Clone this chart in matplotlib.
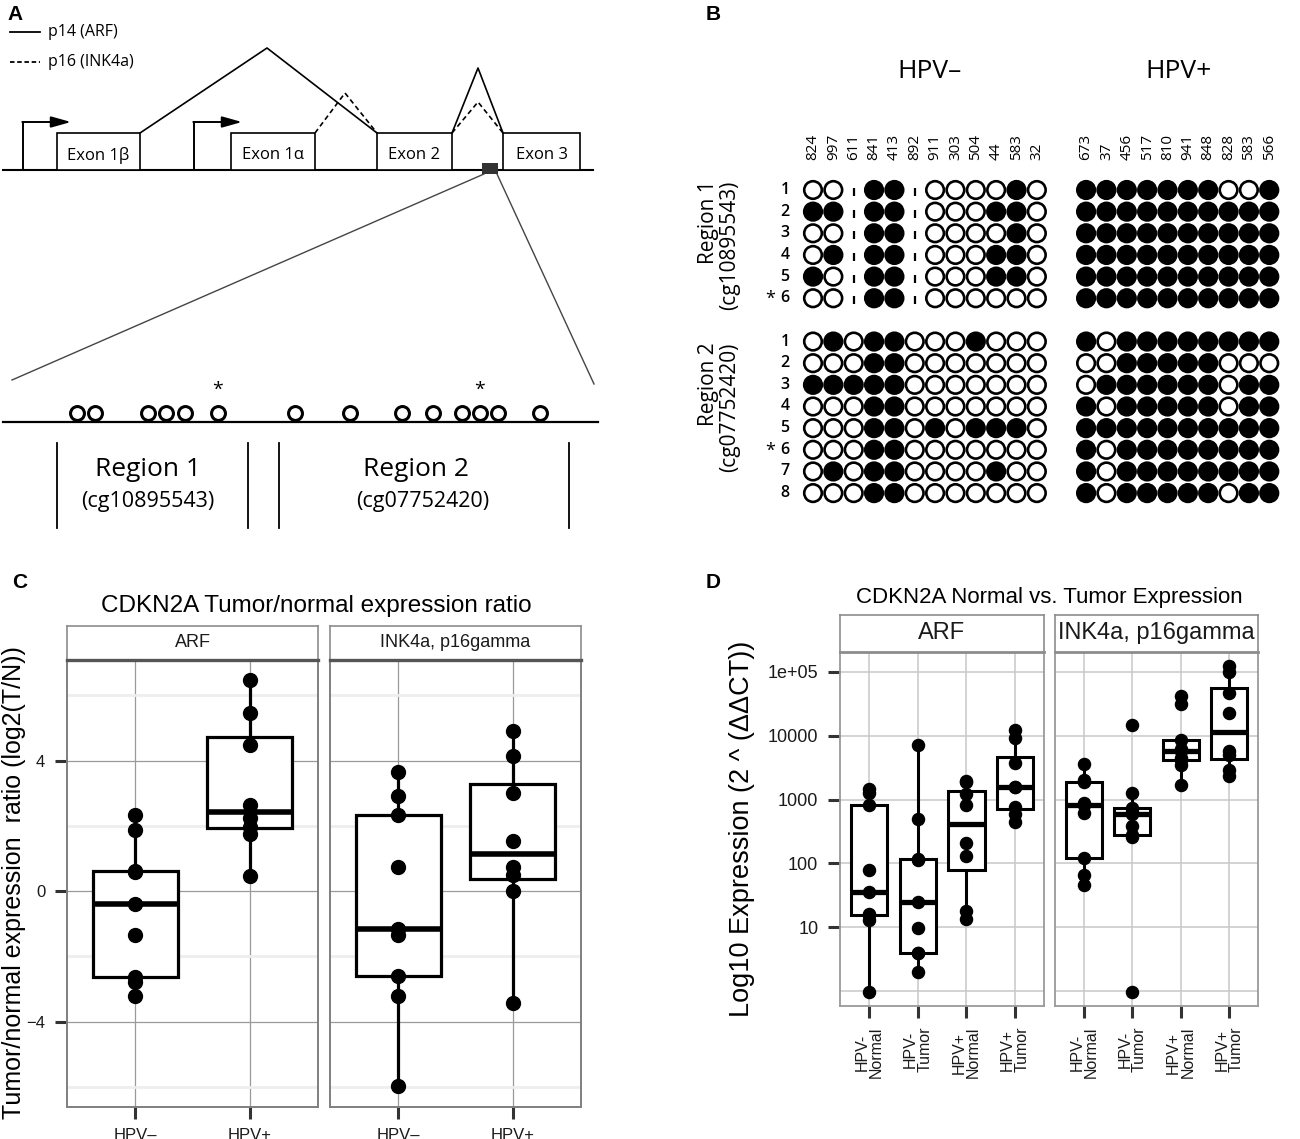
import numpy as np
import matplotlib
matplotlib.use("Agg")
import matplotlib.pyplot as plt
from matplotlib.patches import Rectangle

# ======================= DATA =======================
# --- Panel A (schematic of the CDKN2A locus) ---
exon_labels = ["Exon 1β", "Exon 1α", "Exon 2", "Exon 3"]
exon_spans = [(57, 140), (231, 315), (377, 452), (503, 580)]
tss_sites = [23, 194]
cpg_sites = [77, 95, 148, 166, 185, 218, 295, 350, 402, 433, 462, 480, 498, 540]
marked_sites = [218, 480]
region_names = ["Region 1", "Region 2"]
region_probes = ["(cg10895543)", "(cg07752420)"]
legend_labels = ["p14 (ARF)", "p16 (INK4a)"]

# --- Panel B (bisulfite sequencing; 1 = methylated, 0 = unmethylated, -1 = n/a) ---
hpv_neg_ids = ["824", "997", "611", "841", "413", "892", "911", "303", "504", "44", "583", "32"]
hpv_pos_ids = ["673", "37", "456", "517", "810", "941", "848", "828", "583", "566"]
region1_neg = [
    [0, 0, -1, 1, 1, -1, 0, 0, 0, 0, 1, 0],
    [1, 1, -1, 1, 1, -1, 0, 0, 0, 1, 1, 0],
    [0, 0, -1, 1, 1, -1, 0, 0, 0, 0, 1, 0],
    [0, 1, -1, 1, 1, -1, 0, 0, 0, 1, 1, 0],
    [1, 0, -1, 1, 1, -1, 0, 0, 0, 1, 1, 0],
    [0, 0, -1, 1, 1, -1, 0, 0, 0, 0, 0, 0],
]
region1_pos = [
    [1, 1, 1, 1, 1, 1, 1, 0, 0, 1],
    [1, 1, 1, 1, 1, 1, 1, 1, 1, 1],
    [1, 1, 1, 1, 1, 1, 1, 1, 1, 1],
    [1, 1, 1, 1, 1, 1, 1, 1, 1, 1],
    [1, 1, 1, 1, 1, 1, 1, 1, 1, 1],
    [1, 1, 1, 1, 1, 1, 1, 1, 1, 1],
]
region2_neg = [
    [0, 1, 0, 1, 1, 0, 0, 0, 1, 0, 0, 0],
    [0, 0, 0, 1, 1, 0, 0, 0, 0, 0, 0, 0],
    [1, 1, 1, 1, 1, 0, 0, 0, 0, 0, 0, 0],
    [0, 0, 0, 1, 1, 0, 0, 0, 0, 0, 0, 0],
    [0, 0, 0, 1, 1, 0, 1, 0, 1, 1, 1, 0],
    [0, 0, 0, 1, 1, 0, 0, 0, 0, 0, 0, 0],
    [0, 1, 0, 1, 1, 0, 0, 0, 0, 1, 0, 0],
    [0, 0, 0, 1, 1, 0, 0, 0, 0, 0, 0, 0],
]
region2_pos = [
    [1, 0, 1, 1, 1, 1, 1, 1, 1, 1],
    [0, 0, 1, 1, 1, 1, 1, 0, 0, 0],
    [0, 1, 1, 1, 1, 1, 1, 0, 1, 1],
    [1, 0, 1, 1, 1, 1, 1, 0, 1, 1],
    [1, 1, 1, 1, 1, 1, 1, 1, 1, 1],
    [1, 0, 1, 1, 1, 1, 1, 1, 1, 1],
    [1, 0, 1, 1, 1, 1, 1, 1, 1, 1],
    [1, 0, 1, 1, 1, 1, 1, 0, 1, 1],
]
region1_marked_row = 6
region2_marked_row = 6

# --- Panel C (log2 tumor/normal ratio) ---
c_groups = ["HPV–", "HPV+"]
c_facets = ["ARF", "INK4a, p16gamma"]
c_arf_neg = [-3.22, -2.79, -2.63, -1.34, -0.39, 0.60, 0.62, 1.87, 2.32]
c_arf_pos = [0.47, 1.75, 1.98, 2.25, 2.63, 4.49, 5.47, 6.46]
c_ink_neg = [-5.98, -3.22, -2.59, -1.34, -1.17, 0.73, 2.32, 2.91, 3.65]
c_ink_pos = [-3.43, 0.02, 0.50, 0.73, 1.53, 3.02, 4.13, 4.92]
c_yticks = [-4, 0, 4]

# --- Panel D (2^ddCT expression, plotted on log10 scale) ---
d_groups = ["HPV-\nNormal", "HPV-\nTumor", "HPV+\nNormal", "HPV+\nTumor"]
d_facets = ["ARF", "INK4a, p16gamma"]
d_arf_neg_normal = [0.97, 13, 15.5, 16, 35.5, 78, 809, 1285, 1466]
d_arf_neg_tumor = [2.0, 4.0, 4.0, 9.8, 25, 112, 115, 490, 7150]
d_arf_pos_normal = [13.5, 17.8, 129, 205, 810, 1210, 1900, 1950]
d_arf_pos_tumor = [450, 600, 760, 1570, 1570, 3690, 9300, 12100]
d_ink_neg_normal = [46, 66, 120, 615, 810, 870, 1860, 1990, 3600]
d_ink_neg_tumor = [0.97, 263, 282, 390, 600, 630, 740, 1285, 14750]
d_ink_pos_normal = [1670, 3470, 4220, 4500, 5860, 6270, 8710, 31300, 42400]
d_ink_pos_tumor = [2330, 2910, 4930, 5700, 22500, 46600, 100000, 122000]
d_ytick_values = [10, 100, 1000, 10000, 100000]
d_ytick_labels = ["10", "100", "1000", "10000", "1e+05"]

# ======================= FIGURE =======================
W, H = 1300, 1139
plt.rcParams["font.family"] = ["Liberation Sans", "DejaVu Sans"]
OS = ["Open Sans", "DejaVu Sans"]
fig = plt.figure(figsize=(W / 100, H / 100), dpi=100)


def px_axes(x0, y0, x1, y1, **kw):
    return fig.add_axes([x0 / W, 1 - y1 / H, (x1 - x0) / W, (y1 - y0) / H], **kw)


ax0 = fig.add_axes([0, 0, 1, 1], zorder=0)
ax0.set_xlim(0, W)
ax0.set_ylim(H, 0)
ax0.axis("off")

# panel letters
for lab, (x, y) in zip("ABCD", [(15, 15), (713, 15), (20, 583), (713, 582)]):
    ax0.text(x, y, lab, fontsize=15, fontweight="bold", ha="center", va="center")

# ---------------- Panel A ----------------
base_y, exon_top = 169.5, 133
ax0.plot([10, 40], [32, 32], color="k", lw=1.3)
ax0.plot([10, 40], [62, 62], color="k", lw=1.3, ls=(0, (2.5, 1.5)))
ax0.text(48, 32, legend_labels[0], fontsize=11.5, family=OS, va="center")
ax0.text(48, 62, legend_labels[1], fontsize=11.5, family=OS, va="center")

ax0.plot([3, 593], [base_y, base_y], color="k", lw=1.5, zorder=2)
for (x0, x1), lab in zip(exon_spans, exon_labels):
    ax0.add_patch(Rectangle((x0, exon_top), x1 - x0, base_y - exon_top, fc="white", ec="k", lw=1.2, zorder=3))
    ax0.text((x0 + x1) / 2, 155, lab, ha="center", va="center", fontsize=12, family=OS, zorder=4)
for x in tss_sites:
    ax0.plot([x, x], [base_y, 122], color="k", lw=1.4)
    ax0.annotate("", xy=(x + 48, 122), xytext=(x - 0.7, 122),
                 arrowprops=dict(arrowstyle="-|>,head_length=1.0,head_width=0.28", color="k", lw=1.4,
                                 shrinkA=0, shrinkB=0, mutation_scale=12))
# splicing
e1b, e1a, e2, e3 = exon_spans
ax0.plot([e1b[1], 267, e2[0]], [exon_top, 48, exon_top], color="k", lw=1.2)
ax0.plot([e1a[1], 345, e2[0]], [exon_top, 93, exon_top], color="k", lw=1.2, ls=(0, (3, 2)))
ax0.plot([e2[1], 478, e3[0]], [exon_top, 68, exon_top], color="k", lw=1.2)
ax0.plot([e2[1], 478, e3[0]], [exon_top, 102, exon_top], color="k", lw=1.2, ls=(0, (3, 2)))
ax0.add_patch(Rectangle((482, 163), 16, 11, fc="#333333", ec="none", zorder=5))
ax0.plot([484, 12], [174, 380], color="#444444", lw=1.0)
ax0.plot([497, 594], [174, 384], color="#444444", lw=1.0)

# zoomed region
ax0.plot([3, 598], [422, 422], color="k", lw=1.6)
ax0.plot(cpg_sites, [412.5] * len(cpg_sites), "o", ms=10, mfc="white", mec="k", mew=2.2, zorder=5)
for x in marked_sites:
    ax0.text(x, 390, "*", ha="center", va="center", fontsize=14, family=OS)
for x in [57, 248, 279, 569]:
    ax0.plot([x, x], [443, 528], color="k", lw=1.3)
for xc, xp, nm, pr in zip([148, 416], [148, 423], region_names, region_probes):
    ax0.text(xc, 470, nm, ha="center", va="center", fontsize=19, family=OS)
    ax0.text(xp, 502, pr, ha="center", va="center", fontsize=15.5, family=OS)

# ---------------- Panel B ----------------
axB = px_axes(813 - 5.5 * 20.35, 190 - 2 * 21.65, 813 + 23.5 * 20.35, 190 + 16 * 21.65, zorder=2)
axB.set_xlim(-5.5, 23.5)
axB.set_ylim(16, -2)
axB.axis("off")
pos_offset = 13.42
row_offset2 = 7
neg_cols = np.arange(len(hpv_neg_ids))
pos_cols = pos_offset + np.arange(len(hpv_pos_ids))


def draw_block(mat, cols, row0):
    mat = np.array(mat)
    rr, cc = np.meshgrid(np.arange(mat.shape[0]), np.arange(mat.shape[1]), indexing="ij")
    xs = cols[cc.ravel()]
    ys = row0 + rr.ravel()
    v = mat.ravel()
    ok = v >= 0
    axB.scatter(xs[ok], ys[ok], s=160, c=np.where(v[ok] == 1, "black", "white"),
                edgecolors="black", linewidths=1.9, zorder=3)
    axB.scatter(xs[~ok], ys[~ok] + 0.1, marker="|", s=26, color="black", linewidths=1.6, zorder=3)


draw_block(region1_neg, neg_cols, 0)
draw_block(region1_pos, pos_cols, 0)
draw_block(region2_neg, neg_cols, row_offset2)
draw_block(region2_pos, pos_cols, row_offset2)

for c, lab in zip(neg_cols, hpv_neg_ids):
    axB.text(c, -1.386, lab, rotation=90, ha="center", va="bottom", fontsize=11, family=OS)
for c, lab in zip(pos_cols, hpv_pos_ids):
    axB.text(c, -1.386, lab, rotation=90, ha="center", va="bottom", fontsize=11, family=OS)
for nrows, row0, marked in [(len(region1_neg), 0, region1_marked_row), (len(region2_neg), row_offset2, region2_marked_row)]:
    for r in range(nrows):
        axB.text(-1.38, row0 + r, str(r + 1), ha="center", va="center", fontsize=11.5,
                 fontweight="semibold", family=OS)
    axB.text(-2.12, row0 + marked - 1 + 0.05, "*", ha="center", va="center", fontsize=13, family=OS)

ax0.text(930, 72, "HPV–", ha="center", va="center", fontsize=19, family=OS)
ax0.text(1179, 72, "HPV+", ha="center", va="center", fontsize=19, family=OS)
for yc, nm, pr in zip([245, 407], region_names, region_probes):
    ax0.text(719, yc, nm + "\n" + pr, rotation=90, ha="center", va="center", multialignment="right",
             fontsize=15, family=OS, linespacing=1.05)

# ---------------- helpers for ggplot-like panels ----------------
def style_panel(ax, border="#7F7F7F", blw=1.4):
    for s in ax.spines.values():
        s.set_color(border)
        s.set_linewidth(blw)
    ax.set_axisbelow(True)


def strip(ax, text, fs, bottom_color, bottom_lw):
    ax.set_xticks([])
    ax.set_yticks([])
    ax.set_facecolor("white")
    for s in ax.spines.values():
        s.set_color("#8C8C8C")
        s.set_linewidth(1.2)
    ax.spines["bottom"].set_color(bottom_color)
    ax.spines["bottom"].set_linewidth(bottom_lw)
    ax.text(0.5, 0.5, text, transform=ax.transAxes, ha="center", va="center", fontsize=fs, color="#1A1A1A")


def boxes(ax, datasets, lw_box, lw_med, ms):
    pos = np.arange(1, len(datasets) + 1)
    ax.boxplot(datasets, positions=pos, widths=0.75, patch_artist=True, showfliers=False, showcaps=False,
               whis=1.5, manage_ticks=False,
               boxprops=dict(facecolor="white", edgecolor="black", linewidth=lw_box),
               whiskerprops=dict(color="black", linewidth=lw_box, solid_capstyle="butt"),
               medianprops=dict(color="black", linewidth=lw_med, solid_capstyle="butt"),
               zorder=3)
    for p, d in zip(pos, datasets):
        ax.plot(np.full(len(d), p), d, "o", color="black", ms=ms, zorder=4, clip_on=False)


# ---------------- Panel C ----------------
c_data = [[c_arf_neg, c_arf_pos], [c_ink_neg, c_ink_pos]]
c_x = [(67, 318), (330, 581)]
for i, ((x0, x1), facet, data) in enumerate(zip(c_x, c_facets, c_data)):
    ax = px_axes(x0, 659.5, x1, 1106.5, zorder=2)
    style_panel(ax)
    boxes(ax, data, 2.3, 4.0, 10)
    ax.set_xlim(0.4, 2.6)
    ax.set_ylim(-6.6, 7.1)
    ax.set_yticks(c_yticks)
    ax.set_yticks([-6, -2, 2, 6], minor=True)
    ax.set_xticks([1, 2])
    ax.set_xticklabels(c_groups)
    ax.grid(which="major", color="#9A9A9A", lw=0.9)
    ax.grid(which="minor", axis="y", color="#EEEEEE", lw=2.0)
    ax.tick_params(which="major", length=8.6, width=2.2, color="#333333", labelsize=12, pad=7,
                   labelcolor="#1A1A1A")
    ax.tick_params(which="minor", length=0)
    if i > 0:
        ax.tick_params(axis="y", length=0, labelleft=False)
    sax = px_axes(x0, 625.5, x1, 659.5, zorder=2)
    strip(sax, facet, 13, "#555555", 2.4)

ax0.text(316, 606, "CDKN2A Tumor/normal expression ratio", ha="center", va="center", fontsize=17.5)
ax0.text(14, 883, "Tumor/normal expression  ratio (log2(T/N))", rotation=90, ha="center", va="center",
         fontsize=18)

# ---------------- Panel D ----------------
d_data = [[d_arf_neg_normal, d_arf_neg_tumor, d_arf_pos_normal, d_arf_pos_tumor],
          [d_ink_neg_normal, d_ink_neg_tumor, d_ink_pos_normal, d_ink_pos_tumor]]
d_x = [(840, 1044), (1055, 1258)]
for i, ((x0, x1), facet, data) in enumerate(zip(d_x, d_facets, d_data)):
    ax = px_axes(x0, 652, x1, 1006, zorder=2)
    style_panel(ax, border="#9A9A9A", blw=1.3)
    boxes(ax, [np.log10(d) for d in data], 2.2, 3.8, 8.7)
    ax.set_xlim(0.4, 4.6)
    ax.set_ylim(-0.236, 5.313)
    ax.set_yticks(np.log10(d_ytick_values))
    ax.set_yticklabels(d_ytick_labels)
    ax.set_yticks([0], minor=True)
    ax.set_xticks([1, 2, 3, 4])
    ax.set_xticklabels(d_groups, rotation=90, linespacing=0.95)
    for t in ax.get_xticklabels():
        t.set_multialignment("center")
    ax.grid(which="both", color="#C8C8C8", lw=1.1)
    ax.tick_params(which="major", length=8.6, width=2.2, color="#333333", pad=7, labelcolor="#1A1A1A")
    ax.tick_params(axis="y", labelsize=13)
    ax.tick_params(axis="x", labelsize=11.5, pad=6.5)
    ax.tick_params(which="minor", length=0)
    if i > 0:
        ax.tick_params(axis="y", length=0, labelleft=False)
    sax = px_axes(x0, 614.5, x1, 652, zorder=2)
    strip(sax, facet, 17, "#8C8C8C", 2.0)

ax0.text(1049, 597, "CDKN2A Normal vs. Tumor Expression", ha="center", va="center", fontsize=16)
ax0.text(742, 829, "Log10 Expression (2 ^ (ΔΔCT))", rotation=90, ha="center", va="center", fontsize=19.5)

fig.savefig("out.png", dpi=100, facecolor="white")
